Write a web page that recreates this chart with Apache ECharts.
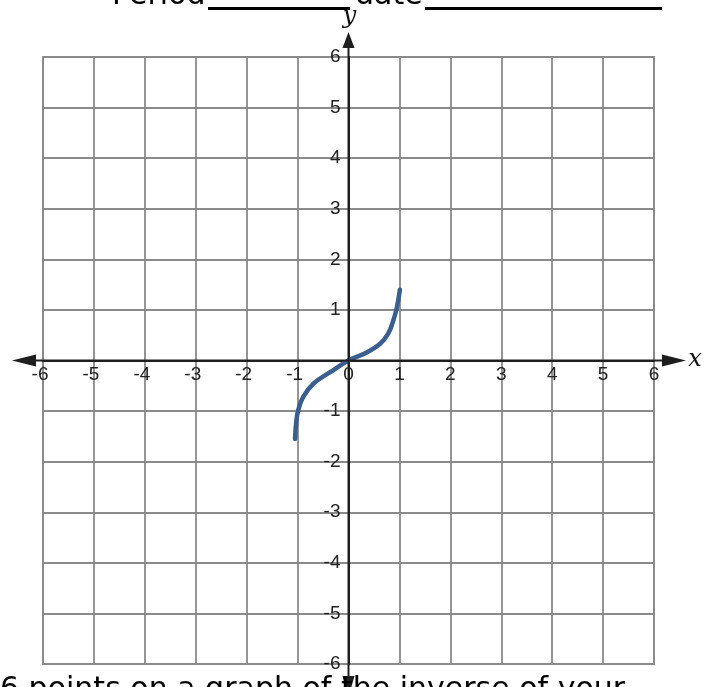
<!DOCTYPE html>
<html>
<head>
<meta charset="utf-8">
<script src="https://cdn.jsdelivr.net/npm/echarts@6/dist/echarts.min.js"></script>
<style>
  html, body { margin: 0; padding: 0; background: #fff; }
  #chart { width: 710px; height: 687px; }
</style>
</head>
<body>
<div id="chart"></div>
<script>
// Axis range and ticks
const axisMin = -6;
const axisMax = 6;
const tickStep = 1;

// Points along the plotted curve (x, y)
const curveX = [-1.05, -1.03, -0.99, -0.89, -0.69, -0.36, 0, 0.36, 0.62, 0.78, 0.88, 0.95, 1.01];
const curveY = [-1.55, -1.25, -0.99, -0.72, -0.46, -0.23, 0, 0.16, 0.33, 0.53, 0.79, 1.05, 1.40];

const headerWord1 = 'Period';
const headerWord2 = 'date';
const footerText = '6 points on a graph of the inverse of your';

const chart = echarts.init(document.getElementById('chart'));

const gridColor = '#8a8a8a';
const axisColor = '#1e1e1e';
const labelColor = '#222';
const labelFont = '19px "Liberation Sans", Arial, sans-serif';

chart.setOption({
  animation: false,
  backgroundColor: '#ffffff',
  grid: {
    left: 43, right: 56, top: 57, bottom: 23,
    show: true, borderColor: gridColor, borderWidth: 1.8, backgroundColor: 'transparent'
  },
  xAxis: {
    type: 'value', min: axisMin, max: axisMax, interval: tickStep,
    axisLine: { show: true, onZero: true, lineStyle: { color: axisColor, width: 2 } },
    axisTick: { show: false },
    splitLine: { show: true, lineStyle: { color: gridColor, width: 1.8 } },
    axisLabel: { show: false }
  },
  yAxis: {
    type: 'value', min: axisMin, max: axisMax, interval: tickStep,
    axisLine: { show: true, onZero: true, lineStyle: { color: axisColor, width: 2 } },
    axisTick: { show: false },
    splitLine: { show: true, lineStyle: { color: gridColor, width: 1.8 } },
    axisLabel: { show: false }
  },
  series: [{
    type: 'line',
    data: curveX.map((x, i) => [x, curveY[i]]),
    smooth: 0.4,
    showSymbol: false,
    lineStyle: { color: '#3a5e8e', width: 4.5, cap: 'round' },
    z: 5
  }]
});

// Tick labels sit next to the zero axes rather than at the grid edge,
// so they are placed through the axis scales as text elements.
function decorate() {
  const o = chart.convertToPixel({ gridIndex: 0 }, [0, 0]);
  const br = chart.convertToPixel({ gridIndex: 0 }, [axisMax, axisMin]);
  const els = [];
  const ticks = [];
  for (let v = axisMin; v <= axisMax; v += tickStep) ticks.push(v);

  ticks.forEach(v => {
    const px = chart.convertToPixel({ gridIndex: 0 }, [v, 0]);
    els.push({
      type: 'text', x: px[0] - (v < 0 ? 3 : 0), y: o[1] + 14, z: 20,
      style: { text: String(v), fill: labelColor, font: labelFont,
               textAlign: 'center', textVerticalAlign: 'middle' }
    });
    if (v !== 0) {
      const py = chart.convertToPixel({ gridIndex: 0 }, [0, v]);
      els.push({
        type: 'text', x: o[0] - 8, y: py[1], z: 20,
        style: { text: String(v), fill: labelColor, font: labelFont,
                 textAlign: 'right', textVerticalAlign: 'middle' }
      });
    }
  });

  // Axis extensions with arrow heads
  const lineStyle = { stroke: axisColor, lineWidth: 2 };
  els.push({ type: 'line', shape: { x1: 22, y1: o[1], x2: br[0] + 15, y2: o[1] }, style: lineStyle, z: 15 });
  els.push({ type: 'line', shape: { x1: o[0], y1: 40, x2: o[0], y2: 687 }, style: lineStyle, z: 15 });
  const arrow = pts => ({ type: 'polygon', shape: { points: pts }, style: { fill: axisColor }, z: 16 });
  els.push(arrow([[12, o[1]], [36, o[1] - 6], [36, o[1] + 6]]));
  els.push(arrow([[686, o[1]], [662, o[1] - 6], [662, o[1] + 6]]));
  els.push(arrow([[o[0], 32], [o[0] - 6, 48], [o[0] + 6, 48]]));
  els.push(arrow([[o[0], 697], [o[0] - 6, 676], [o[0] + 6, 676]]));

  // Axis names
  els.push({ type: 'text', x: 695, y: o[1] - 1, z: 20,
    style: { text: 'x', fill: '#111', font: 'italic 24px "DejaVu Serif", serif', textAlign: 'center', textVerticalAlign: 'middle' } });
  els.push({ type: 'text', x: o[0] + 1, y: 17, z: 20,
    style: { text: 'y', fill: '#111', font: 'italic 24px "DejaVu Serif", serif', textAlign: 'center', textVerticalAlign: 'middle' } });

  // Header line (cut by the top edge)
  els.push({ type: 'text', x: 112, y: 11, z: 20,
    style: { text: headerWord1, fill: '#000', font: '30px "DejaVu Sans", sans-serif', textAlign: 'left', textVerticalAlign: 'bottom' } });
  els.push({ type: 'rect', shape: { x: 208, y: 7, width: 142, height: 3 }, style: { fill: '#000' }, z: 20 });
  els.push({ type: 'text', x: 355, y: 11, z: 20,
    style: { text: headerWord2, fill: '#000', font: '30px "DejaVu Sans", sans-serif', textAlign: 'left', textVerticalAlign: 'bottom' } });
  els.push({ type: 'rect', shape: { x: 425, y: 7, width: 237, height: 3 }, style: { fill: '#000' }, z: 20 });

  // Footer line (cut by the bottom edge)
  els.push({ type: 'text', x: 0, y: 675, z: 20,
    style: { text: footerText, fill: '#000', font: '30px "DejaVu Sans", sans-serif', textAlign: 'left', textVerticalAlign: 'top' } });

  chart.setOption({ graphic: { elements: els } });
}
decorate();
</script>
</body>
</html>
